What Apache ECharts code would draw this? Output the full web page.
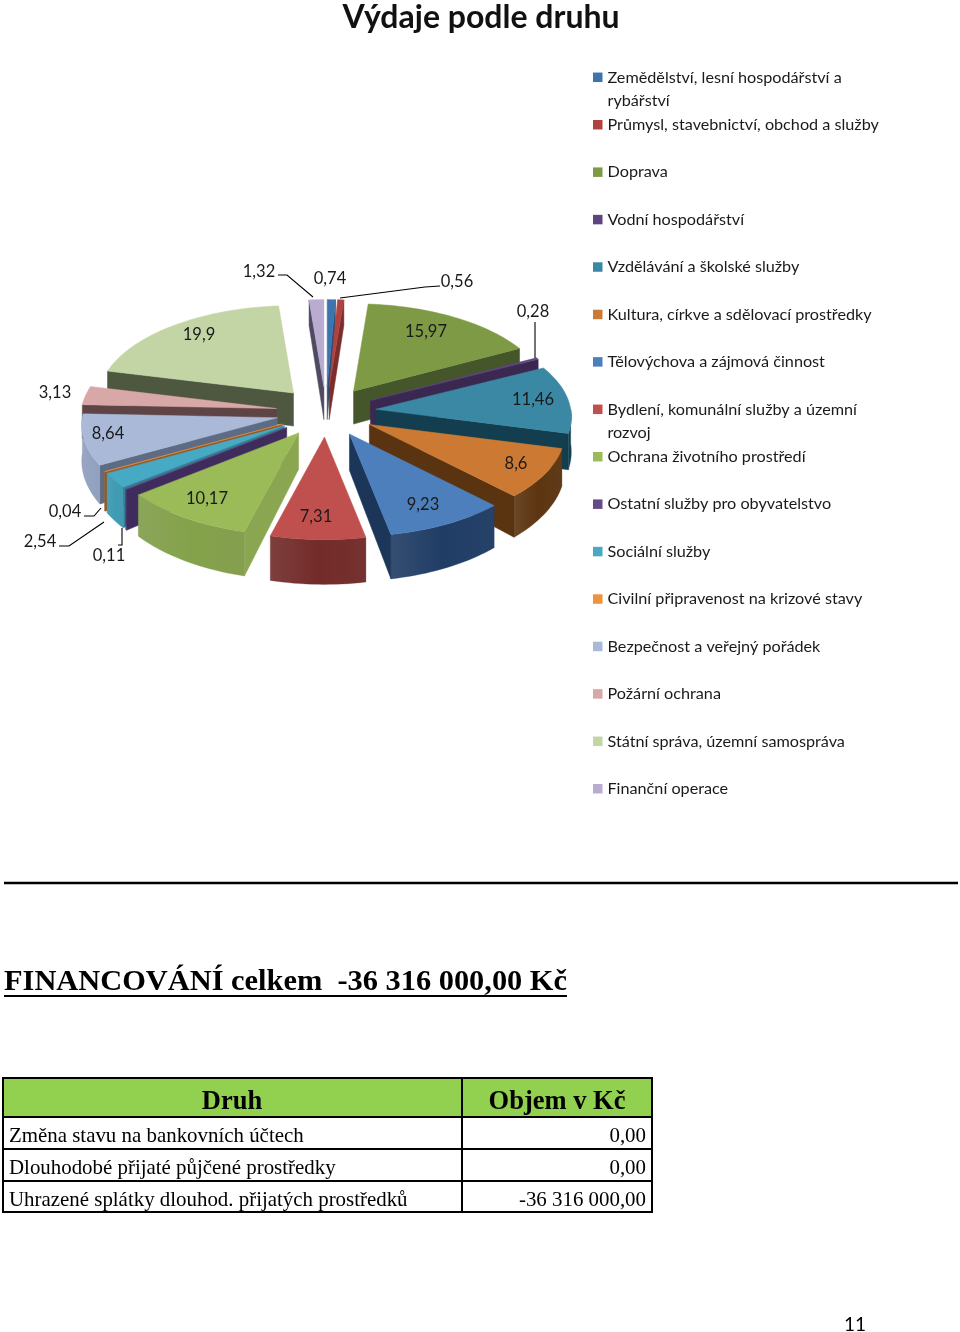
<!DOCTYPE html>
<html><head><meta charset="utf-8">
<style>html,body{margin:0;padding:0;background:#fff}#c{width:960px;height:1332px}</style>
<script src="https://cdn.jsdelivr.net/npm/echarts@6/dist/echarts.min.js"></script>
</head><body><div id="c"></div>
<script>
const categories = ['Zemědělství, lesní hospodářství a rybářství','Průmysl, stavebnictví, obchod a služby','Doprava','Vodní hospodářství','Vzdělávání a školské služby','Kultura, církve a sdělovací prostředky','Tělovýchova a zájmová činnost','Bydlení, komunální služby a územní rozvoj','Ochrana životního prostředí','Ostatní služby pro obyvatelstvo','Sociální služby','Civilní připravenost na krizové stavy','Bezpečnost a veřejný pořádek','Požární ochrana','Státní správa, územní samospráva','Finanční operace'];
const shares = [0.74,0.56,15.97,0.28,11.46,8.6,9.23,7.31,10.17,0.11,2.54,0.04,8.64,3.13,19.9,1.32];
const shareText = ['0,74','0,56','15,97','0,28','11,46','8,6','9,23','7,31','10,17','0,11','2,54','0,04','8,64','3,13','19,9','1,32'];
const tableHead = ['Druh','Objem v Kč'];
const tableKinds = ['Změna stavu na bankovních účtech','Dlouhodobé přijaté půjčené prostředky','Uhrazené splátky dlouhod. přijatých prostředků'];
const tableAmounts = ['0,00','0,00','-36 316 000,00'];

const topColors = ['#3e74ae','#b04340','#7f9a45','#5d4580','#3b88a4','#cc7a33','#4d7fbd','#c0504d','#9bbb59','#664a85','#46aac4','#f0923c','#aab9d8','#d8a8a8','#c3d5a5','#b9acd0'];
const wallColors = ['#2a4d73','#7a2e2c','#44562a','#3a2850','#123e4f','#5a3310','#1c3659','#6f2a28','#8aa650','#3f2b5c','#2f8198','#8f5a2e','#5d6b85','#5e4444','#4e5840','#4f4a62'];
const rimColors = ['#2a4d73','#6e2a28','#5a6e33','#3c2a52','#0f3c4d','#5a3310','#1f3b63','#6f2a28','#7f9c48','#4a3266','#3c96ae','#a8622a','#8e9dbb','#b08e8e','#8a9a74','#7f7699'];
// layout of the outside/inside labels [x, y] and optional leader polylines
const labelSpots = [[330,279],[457,282],[426,332],[533,312],[533,400],[516,464],[423,505],[316,517],[207,499],[109,556],[40,542],[65,512],[108,434],[55,393],[199,335],[259,272]];
const leaders = {1:[[440,286],[425,287],[340,298]],3:[[535,322],[535,358]],9:[[122,528],[122,545],[118,545]],10:[[59,546],[69,546],[104,522]],11:[[84,516],[94,516],[101,508]],15:[[278,275],[287,275],[313,297]]};

const CX=326, CY=412, RX=195, RY=95, PERSP=0.08, EX=50, EY=25;
const total = shares.reduce((a,b)=>a+b,0);
const starts = []; shares.reduce((acc,v,i)=>{starts[i]=acc;return acc+v;},0);
const mids = shares.map((v,i)=>(starts[i]+v/2)/total*2*Math.PI);
const ranks = mids.map((m,i)=>i).sort((a,b)=>Math.cos(mids[b])-Math.cos(mids[a]));
const rankOf = []; ranks.forEach((idx,r)=>rankOf[idx]=r);
const depthAt = y => 35 + 0.08*(y-417);
const FONT = 'Lato';

function sliceItem(i, value){
  const a0 = starts[i]/total*2*Math.PI, a1 = a0 + value/total*2*Math.PI;
  const m = mids[i];
  const ax = CX + EX*Math.sin(m), ay = CY - EY*Math.cos(m);
  const rim = t => { const s = 1 - PERSP*Math.cos(t); return [ax + RX*s*Math.sin(t), ay - RY*s*Math.cos(t)]; };
  const down = p => [p[0], p[1] + depthAt(p[1])];
  const n = Math.max(2, Math.ceil((a1-a0)/0.03));
  const arc = []; for (let k=0;k<=n;k++) arc.push(a0+(a1-a0)*k/n);
  const kids = [];
  const z = rankOf[i]*4 + 10;
  const wall = (t) => {
    const p = rim(t), apex=[ax,ay];
    kids.push({type:'polygon', z2:z, shape:{points:[apex,p,down(p),down(apex)]}, style:{fill:wallColors[i], stroke:wallColors[i], lineWidth:0.5}});
  };
  if (Math.sin(a0) < 0) wall(a0);
  if (Math.sin(a1) > 0) wall(a1);
  const lo = Math.max(a0, Math.PI/2), hi = Math.min(a1, Math.PI*1.5);
  if (hi > lo) {
    const m2 = Math.max(2, Math.ceil((hi-lo)/0.03)), ts=[];
    for (let k=0;k<=m2;k++) ts.push(lo+(hi-lo)*k/m2);
    const upper = ts.map(rim), lower = ts.map(t=>down(rim(t))).reverse();
    const col = rimColors[i];
    kids.push({type:'polygon', z2:z+1, shape:{points:upper.concat(lower)}, style:{fill:new echarts.graphic.LinearGradient(0,0,1,0,[
      {offset:0,color:echarts.color.lift(col,0.1)},{offset:0.5,color:echarts.color.lift(col,-0.04)},{offset:1,color:echarts.color.lift(col,0.04)}]), stroke:col, lineWidth:0.3}});
  }
  kids.push({type:'polygon', z2:z+2, shape:{points:[[ax,ay]].concat(arc.map(rim))}, style:{fill:topColors[i], stroke:topColors[i], lineWidth:0.5}});
  const spot = labelSpots[i];
  kids.push({type:'text', z2:500, style:{text:shareText[i], x:spot[0], y:spot[1], align:'center', verticalAlign:'middle', fill:'#1a1a1a', font:'16.5px '+FONT}});
  if (leaders[i]) kids.push({type:'polyline', z2:499, shape:{points:leaders[i]}, style:{fill:null, stroke:'#000', lineWidth:1.1}});
  return {type:'group', children:kids};
}

const series = categories.map((name,i)=>({
  type:'custom', name, coordinateSystem:'none', silent:true, animation:false,
  itemStyle:{color:topColors[i]},
  data:[[shares[i]]],
  renderItem:(params,api)=>sliceItem(i, api.value(0))
}));

const rowCenter = i => 77.3 + i*47.43;
// a leading blank line keeps the first text line level with the legend square
const lineBreaks = {0:'\nZemědělství, lesní hospodářství a\nrybářství', 7:'\nBydlení, komunální služby a územní\nrozvoj'};
const legends = categories.map((name,i)=>({
  data:[name], orient:'vertical', left:593, top: rowCenter(i) - (lineBreaks[i]?34.5:11.5), padding:0, selectedMode:false,
  icon:'rect', itemWidth:9.5, itemHeight:9.5, itemGap:0,
  formatter: n => lineBreaks[i] || n,
  textStyle:{fontFamily:FONT, fontSize:16.2, color:'#1a1a1a', lineHeight:23}
}));

// table layout
const colX=[3,462,652], rowY=[1078,1117,1149,1181,1212];
const g=[];
const rule=(x1,y1,x2,y2,w)=>g.push({type:'line',shape:{x1,y1,x2,y2},style:{stroke:'#000',lineWidth:w}});
const txt=(text,x,y,align,font,extra)=>g.push({type:'text',style:Object.assign({text,x,y,align,verticalAlign:'middle',fill:'#000',font},extra||{})});
g.push({type:'rect',shape:{x:colX[0],y:rowY[0],width:colX[2]-colX[0],height:rowY[1]-rowY[0]},style:{fill:'#92d050'}});
rule(4,883,958,883,2.5);
txt('FINANCOVÁNÍ celkem  -36 316 000,00 Kč',4,982,'left','bold 30.4px "Liberation Serif"');
rule(4,996,567,996,2);
rowY.forEach(y=>rule(colX[0]-1,y,colX[2]+1,y,2));
colX.forEach(x=>rule(x,rowY[0],x,rowY[4],2));
txt(tableHead[0],232,1102,'center','bold 26.5px "Liberation Serif"');
txt(tableHead[1],557,1102,'center','bold 26.5px "Liberation Serif"');
tableKinds.forEach((t,i)=>{
  const y=(rowY[i+1]+rowY[i+2])/2+4;
  txt(t,9,y,'left','20.9px "Liberation Serif"');
  txt(tableAmounts[i],646,y,'right','20.9px "Liberation Serif"');
});
txt('11',855,1325,'center','19px '+FONT);

const chart = echarts.init(document.getElementById('c'),null,{renderer:'canvas',width:960,height:1332});
chart.setOption({
  animation:false,
  title:{text:'Výdaje podle druhu',left:481,textAlign:'center',top:2,padding:0,textStyle:{fontFamily:FONT,fontWeight:'bold',fontSize:32,color:'#111'}},
  legend:legends,
  series,
  graphic:{elements:g}
});
</script></body></html>
